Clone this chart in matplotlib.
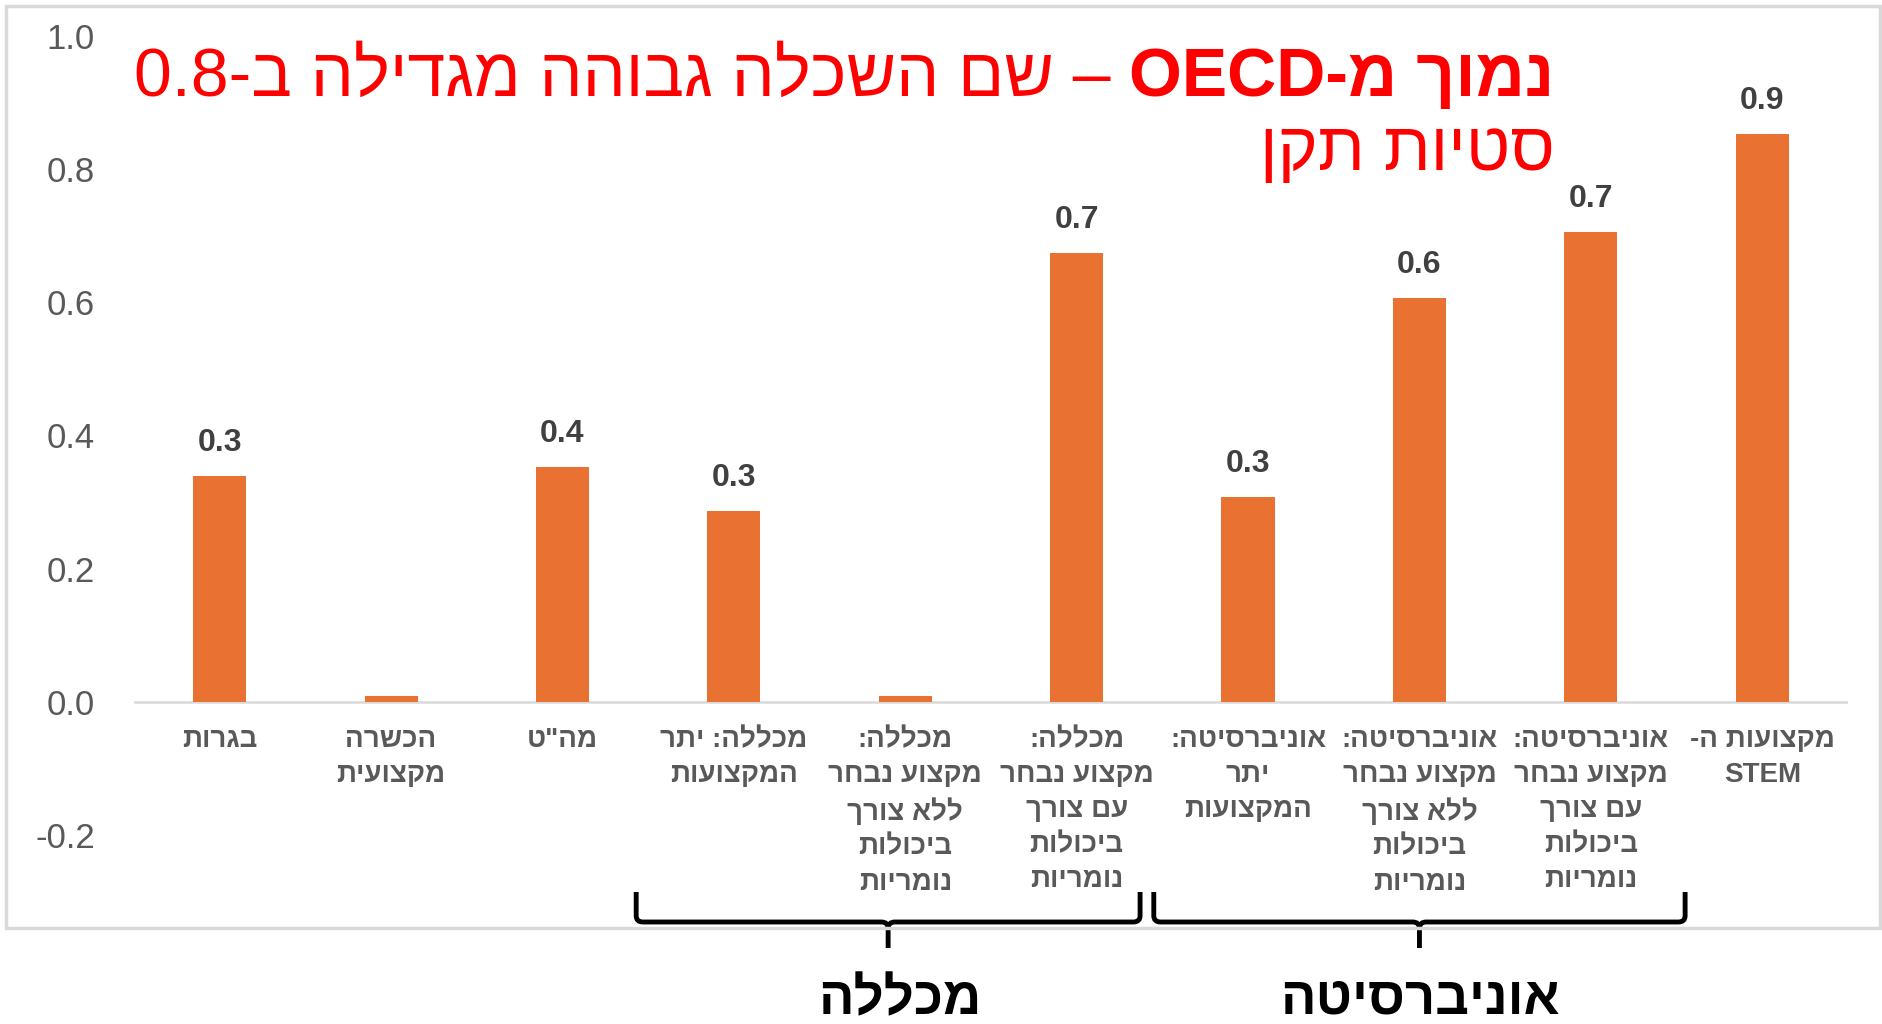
import re
import matplotlib
matplotlib.use("Agg")
import matplotlib.pyplot as plt
from matplotlib.patches import Rectangle
from matplotlib.path import Path
from matplotlib.patches import PathPatch
from matplotlib.transforms import blended_transform_factory

# --- data (logical Hebrew order, lines split with \n) ---
categories = [
    "בגרות",
    "הכשרה\nמקצועית",
    'מה"ט',
    "מכללה: יתר\nהמקצועות",
    "מכללה:\nמקצוע נבחר\nללא צורך\nביכולות\nנומריות",
    "מכללה:\nמקצוע נבחר\nעם צורך\nביכולות\nנומריות",
    "אוניברסיטה:\nיתר\nהמקצועות",
    "אוניברסיטה:\nמקצוע נבחר\nללא צורך\nביכולות\nנומריות",
    "אוניברסיטה:\nמקצוע נבחר\nעם צורך\nביכולות\nנומריות",
    "מקצועות ה-\nSTEM",
]
values = [0.339, 0.008, 0.352, 0.286, 0.008, 0.674, 0.308, 0.607, 0.706, 0.852]
groups = ["מכללה", "אוניברסיטה"]
group_spans = [(2.43, 5.37), (5.45, 8.55)]
group_centers = [3.9, 7.0]
group_label_x = [3.97, 7.0]

title_bold = "נמוך מ-OECD"
title_rest = " – שם השכלה גבוהה מגדילה ב-0.8"
title_line2 = "סטיות תקן"

BAR = "#E97132"
GRAY = "#595959"


def rtl(s):
    # crude visual reordering for right-to-left text
    out = []
    for line in s.split("\n"):
        runs = re.findall(r"[A-Za-z0-9.]+|[^A-Za-z0-9.]+", line)
        parts = []
        for r in reversed(runs):
            parts.append(r if re.match(r"[A-Za-z0-9.]", r) else r[::-1])
        out.append("".join(parts))
    return "\n".join(out)


font = ["Liberation Sans", "DejaVu Sans"]
plt.rcParams["font.family"] = font

fig = plt.figure(figsize=(18.82, 10.24), dpi=100)
ax = fig.add_axes([0.0712, 0.1846, 0.9107, 0.7803])

x = list(range(len(values)))
ax.bar(x, values, width=0.31, color=BAR, zorder=2)
ax.set_xlim(-0.5, len(values) - 0.5)
ax.set_ylim(-0.2, 1.0)
ax.axhline(0, color="#D9D9D9", lw=1.8, zorder=1)

for s in ax.spines.values():
    s.set_visible(False)
ax.set_xticks([])
yt = [-0.2, 0.0, 0.2, 0.4, 0.6, 0.8, 1.0]
ax.set_yticks(yt)
ax.set_yticklabels([f"{v:.1f}" for v in yt])
ax.tick_params(axis="y", length=0, pad=28, labelsize=25, labelcolor=GRAY)

# value labels
for xi, v in zip(x, values):
    if v >= 0.05:
        ax.annotate(f"{v:.1f}", (xi, v), xytext=(0, 13), textcoords="offset points",
                    ha="center", va="bottom", fontsize=23, fontweight="bold", color="#404040")

# category labels
for xi, c in zip(x, categories):
    ax.text(xi, -0.038, rtl(c), ha="center", va="top", fontsize=20, color=GRAY,
            fontweight="bold", linespacing=1.45)

# outer frame
fig.patches.append(Rectangle((6 / 1882, 1 - 928 / 1024), 1874 / 1882, 922 / 1024,
                             transform=fig.transFigure, fill=False, ec="#D9D9D9", lw=2.5))

# group brackets
tr = blended_transform_factory(ax.transData, fig.transFigure)
y_top, y_mid, y_tick = 1 - 892 / 1024, 1 - 922 / 1024, 1 - 948 / 1024
for (x0, x1), xc, xl, name in zip(group_spans, group_centers, group_label_x, groups):
    r = 0.04
    dy = 0.006
    verts = [(x0, y_top), (x0, y_mid + dy), (x0, y_mid), (x0 + r, y_mid),
             (xc - r, y_mid), (xc, y_mid), (xc, y_mid - dy), (xc, y_tick),
             (xc, y_mid - dy), (xc, y_mid), (xc + r, y_mid),
             (x1 - r, y_mid), (x1, y_mid), (x1, y_mid + dy), (x1, y_top)]
    codes = [Path.MOVETO, Path.LINETO, Path.CURVE3, Path.CURVE3,
             Path.LINETO, Path.CURVE3, Path.CURVE3, Path.LINETO,
             Path.MOVETO, Path.CURVE3, Path.CURVE3,
             Path.LINETO, Path.CURVE3, Path.CURVE3, Path.LINETO]
    pp = PathPatch(Path(verts, codes), transform=tr, fill=False, lw=3.5, ec="black", clip_on=False)
    ax.add_patch(pp)
    ax.text(xl, 1 - 1000 / 1024, rtl(name), transform=tr, ha="center", va="center",
            fontsize=38, fontweight="bold", color="black", clip_on=False)

# title (bold part on the right, regular part to its left)
t1 = fig.text(0.826, 0.906, rtl(title_bold), ha="right", va="baseline",
              fontsize=49, fontweight="bold", color="#FF0000")
fig.canvas.draw()
bb = t1.get_window_extent(fig.canvas.get_renderer())
fig.text(bb.x0 / fig.bbox.width, 0.906, rtl(title_rest), ha="right", va="baseline",
         fontsize=49, color="#FF0000")
fig.text(0.826, 0.834, rtl(title_line2), ha="right", va="baseline",
         fontsize=49, color="#FF0000")

fig.savefig("out.png", dpi=100)
